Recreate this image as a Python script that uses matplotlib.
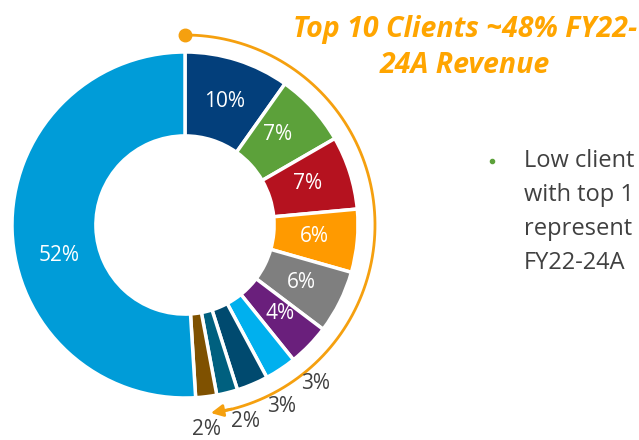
import numpy as np
import matplotlib
matplotlib.use("Agg")
import matplotlib.pyplot as plt

# client share of FY22-24A revenue (top 10 clients, then the rest)
clients = ["C1", "C2", "C3", "C4", "C5", "C6", "C7", "C8", "C9", "C10", "Others"]
shares = [10, 7, 7, 6, 6, 4, 3, 3, 2, 2, 52]
colors = ["#033F7B", "#5CA13A", "#B5121F", "#FF9A00", "#7F7F7F", "#6A1F7C",
          "#00B0EE", "#004A6F", "#00607F", "#7F5100", "#009CD8"]
inside = [True, True, True, True, True, True, False, False, False, False, True]
# small angular nudges (deg, clockwise +) so labels sit like the original
nudge = [0, -2, -1, 0, 0, -1, -6, -5, -3, 1, -12]

title_lines = ["Top 10 Clients ~48% FY22-", "24A Revenue"]
# the bullet text is cut by the slide edge in the original
bullet_lines = ["Low client", "with top 1", "represent", "FY22-24A"]

plt.rcParams["font.family"] = ["Open Sans", "DejaVu Sans"]

fig = plt.figure(figsize=(6.39, 4.40), dpi=100)
ax = fig.add_axes([0, 0, 1, 1])

cx, cy, R = 185, 215, 173
wedges, _ = ax.pie(shares, colors=colors, startangle=90, counterclock=False,
                   center=(cx, cy), radius=R, frame=True,
                   wedgeprops=dict(width=R * 0.485, edgecolor="white", linewidth=2.5))
ax.set_xlim(0, 639)
ax.set_ylim(0, 440)
ax.set_aspect("equal")
ax.axis("off")

for w, s, ins, dn in zip(wedges, shares, inside, nudge):
    mid = np.deg2rad((w.theta1 + w.theta2) / 2 - dn)
    r = R * 0.75 if ins else R * 1.19
    x = cx + r * np.cos(mid)
    y = cy + r * np.sin(mid)
    ax.text(x, y, f"{s}%", ha="center", va="center", fontsize=15,
            color="white" if ins else "#404040")

# orange bracket arc round the top 10
ra = 190
th = np.deg2rad(np.linspace(90, 90 - 168, 200))
ax.plot(cx + ra * np.cos(th), cy + ra * np.sin(th), color="#F5A00F", lw=2, zorder=1)
ax.plot(cx + ra * np.cos(th[0]), cy + ra * np.sin(th[0]), "o", color="#F5A00F",
        markersize=9, zorder=2)
end = np.deg2rad(90 - 173)
prev = np.deg2rad(90 - 165)
ax.annotate("", xy=(cx + ra * np.cos(end), cy + ra * np.sin(end)),
            xytext=(cx + ra * np.cos(prev), cy + ra * np.sin(prev)),
            arrowprops=dict(arrowstyle="-|>", color="#F5A00F", lw=2,
                            mutation_scale=18))

for i, line in enumerate(title_lines):
    ax.text(465, 411 - i * 36, line, ha="center", va="center", fontsize=20.5,
            fontweight="bold", fontstyle="italic", color="#FFA500")

ax.plot(492, 279, "o", color="#5CA13A", markersize=3)
for i, line in enumerate(bullet_lines):
    ax.text(524, 279 - i * 34, line, ha="left", va="center", fontsize=17,
            color="#404040")

fig.savefig("out.png", dpi=100)
